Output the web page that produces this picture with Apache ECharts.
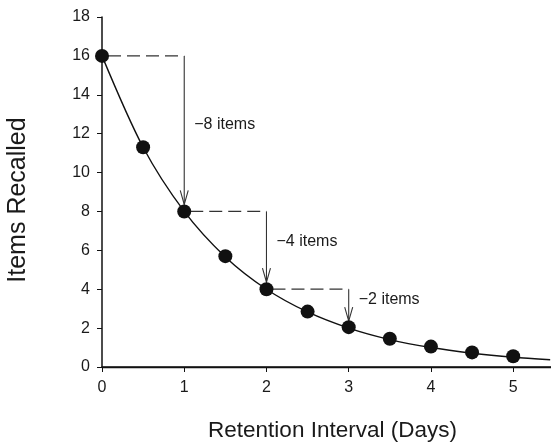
<!DOCTYPE html>
<html>
<head>
<meta charset="utf-8">
<script src="https://cdn.jsdelivr.net/npm/echarts@6/dist/echarts.min.js"></script>
<style>
  html, body { margin: 0; padding: 0; background: #fff; }
  #chart { width: 551px; height: 445px; }
</style>
</head>
<body>
<div id="chart"></div>
<script>
// measured points (days, items recalled)
const days = [0, 0.5, 1, 1.5, 2, 2.5, 3, 3.5, 4, 4.5, 5];
const items = [16, 11.3, 8, 5.7, 4, 2.85, 2.05, 1.45, 1.05, 0.75, 0.55];
// fitted curve runs a bit past the last point
const curveDays = [0, 0.5, 1, 1.5, 2, 2.5, 3, 3.5, 4, 4.5, 5, 5.45];
const curveItems = [16, 11.3, 8, 5.66, 4, 2.83, 2, 1.41, 1, 0.71, 0.5, 0.37];
// halving steps
const stepDays = [0, 1, 2, 3];
const stepItems = [16, 8, 4, 2];
const stepLabels = ['\u22128 items', '\u22124 items', '\u22122 items'];

const xTicks = [0, 1, 2, 3, 4, 5];
const yTicks = [0, 2, 4, 6, 8, 10, 12, 14, 16, 18];

const font = '"Liberation Sans", Arial, Helvetica, sans-serif';

const chart = echarts.init(document.getElementById('chart'));

const stepData = stepLabels.map((label, i) => [
  stepDays[i], stepItems[i], stepDays[i + 1], stepItems[i + 1]
]);

const renderStep = (params, api) => {
  const x0 = api.value(0), y0 = api.value(1), x1 = api.value(2), y1 = api.value(3);
  const label = stepLabels[params.dataIndex];
  const a = api.coord([x0, y0]);
  const b = api.coord([x1, y0]);
  const c = api.coord([x1, y1]);
  const tipY = c[1] - 7;
  const stroke = '#333';
  return {
    type: 'group',
    children: [
      {
        type: 'line',
        shape: { x1: a[0] + 6, y1: a[1], x2: b[0], y2: b[1] },
        style: { stroke: stroke, lineWidth: 1.2, lineDash: [13, 6] }
      },
      {
        type: 'line',
        shape: { x1: b[0], y1: b[1], x2: b[0], y2: tipY },
        style: { stroke: stroke, lineWidth: 1.1 }
      },
      {
        type: 'polyline',
        shape: { points: [[b[0] - 4, tipY - 14], [b[0], tipY], [b[0] + 4, tipY - 14]] },
        style: { stroke: stroke, lineWidth: 1.1, fill: null }
      },
      {
        type: 'text',
        style: {
          x: b[0] + 10,
          y: (b[1] + c[1]) / 2 - 9,
          text: label,
          font: '16px ' + font,
          fill: '#1a1a1a',
          verticalAlign: 'middle',
          align: 'left'
        }
      }
    ]
  };
};

const option = {
  backgroundColor: '#fff',
  animation: false,
  grid: {
    left: 102,
    right: 0,
    top: 17,
    bottom: 78,
    outerBoundsMode: 'none'
  },
  xAxis: [
    {
      type: 'value',
      min: 0,
      max: 5.46,
      interval: 1,
      name: 'Retention Interval (Days)',
      nameLocation: 'middle',
      nameGap: 52,
      nameTextStyle: { fontFamily: font, fontSize: 22.5, color: '#1a1a1a', padding: [0, 0, 0, 12] },
      axisLine: { show: true, onZero: false, lineStyle: { color: '#111', width: 1.5 } },
      axisTick: { show: true, length: 5, lineStyle: { color: '#111' } },
      axisLabel: {
        margin: 13,
        fontFamily: font,
        fontSize: 16,
        color: '#1a1a1a',
        formatter: v => (xTicks.includes(v) ? String(v) : '')
      },
      splitLine: { show: false }
    },
    {
      type: 'value',
      position: 'top',
      min: 0,
      max: 5.46,
      axisLine: { show: true, lineStyle: { color: '#111', width: 1.3 } },
      axisTick: { show: false },
      axisLabel: { show: false },
      splitLine: { show: false }
    }
  ],
  yAxis: {
    type: 'value',
    min: 0,
    max: 18,
    interval: 2,
    name: 'Items Recalled',
    nameLocation: 'middle',
    nameGap: 71,
    nameTextStyle: { fontFamily: font, fontSize: 25, color: '#1a1a1a', padding: [0, 16, 0, 0] },
    axisLine: { show: true, onZero: false, lineStyle: { color: '#111', width: 1.5 } },
    axisTick: { show: true, length: 5, lineStyle: { color: '#111' } },
    axisLabel: {
      margin: 12,
      fontFamily: font,
      fontSize: 16,
      color: '#1a1a1a',
      formatter: v => (yTicks.includes(v) ? String(v) : '')
    },
    splitLine: { show: false }
  },
  series: [
    {
      name: 'curve',
      type: 'line',
      data: curveDays.map((d, i) => [d, curveItems[i]]),
      smooth: 0.3,
      showSymbol: false,
      lineStyle: { color: '#111', width: 1.4 },
      z: 2
    },
    {
      name: 'steps',
      type: 'custom',
      data: stepData,
      renderItem: renderStep,
      z: 3
    },
    {
      name: 'points',
      type: 'scatter',
      data: days.map((d, i) => [d, items[i]]),
      symbol: 'circle',
      symbolSize: 14,
      itemStyle: { color: '#111', opacity: 1 },
      z: 4
    }
  ]
};

chart.setOption(option);
</script>
</body>
</html>
